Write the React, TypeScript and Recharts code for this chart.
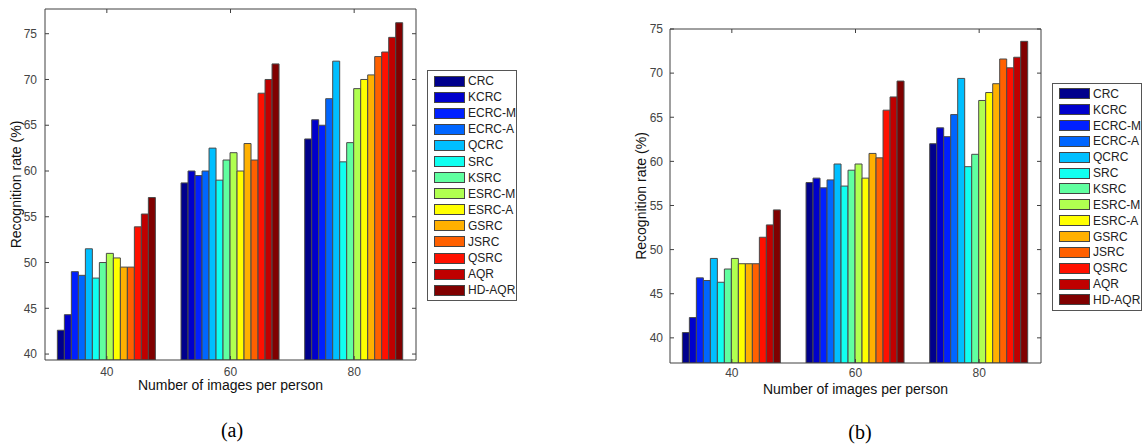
import React from 'react';
import { BarChart, Bar, XAxis, YAxis, Legend, Label } from 'recharts';

const CATEGORIES = ['40', '60', '80'];
const METHODS = ['CRC', 'KCRC', 'ECRC-M', 'ECRC-A', 'QCRC', 'SRC', 'KSRC', 'ESRC-M', 'ESRC-A', 'GSRC', 'JSRC', 'QSRC', 'AQR', 'HD-AQR'];
const COLORS = ['#00008c', '#0000cc', '#0020ff', '#0066ff', '#00bfff', '#10fff0', '#60ffa0', '#b0ff50', '#ffff00', '#ffb000', '#ff6000', '#ff1000', '#c00000', '#800000'];
const Y_TICKS = [40, 45, 50, 55, 60, 65, 70, 75];

// panel (a), one array per category, in METHODS order
const A_40 = [42.6, 44.3, 49.0, 48.6, 51.5, 48.3, 50.0, 51.0, 50.5, 49.5, 49.5, 53.9, 55.3, 57.1];
const A_60 = [58.7, 60.0, 59.5, 60.0, 62.5, 59.0, 61.2, 62.0, 60.0, 63.0, 61.2, 68.5, 70.0, 71.7];
const A_80 = [63.5, 65.6, 65.0, 67.9, 72.0, 61.0, 63.1, 69.0, 70.0, 70.5, 72.5, 73.0, 74.6, 76.2];

// panel (b)
const B_40 = [40.6, 42.3, 46.8, 46.5, 49.0, 46.3, 47.8, 49.0, 48.4, 48.4, 48.4, 51.4, 52.8, 54.5];
const B_60 = [57.6, 58.1, 57.0, 57.9, 59.7, 57.2, 59.0, 59.7, 58.1, 60.9, 60.4, 65.8, 67.3, 69.1];
const B_80 = [62.0, 63.8, 62.8, 65.3, 69.4, 59.4, 60.8, 66.9, 67.8, 68.8, 71.6, 70.6, 71.8, 73.6];

function toRows(groups: number[][]) {
  return CATEGORIES.map((name, i) => {
    const row: Record<string, string | number> = { name };
    METHODS.forEach((m, j) => {
      row[m] = groups[i][j];
    });
    return row;
  });
}

const AXIS = '#404040';
const TICK_STYLE = { fontSize: 12, fill: '#444', fontFamily: 'Liberation Sans, Arial, sans-serif' };
const TITLE_STYLE = { fontSize: 14, fill: '#111', fontFamily: 'Liberation Sans, Arial, sans-serif' };

const legendContent = (rowHeight: number) => () => (
  <div
    style={{
      border: '1px solid #555',
      background: '#fff',
      padding: '2px 0 2px 6px',
      boxSizing: 'border-box',
      width: 90,
      fontFamily: 'Liberation Sans, Arial, sans-serif',
    }}
  >
    {METHODS.map((m, i) => (
      <div key={m} style={{ display: 'flex', alignItems: 'center', height: rowHeight }}>
        <span
          style={{
            display: 'inline-block',
            width: 31,
            height: 11,
            background: COLORS[i],
            border: '1px solid #444',
            boxSizing: 'border-box',
          }}
        />
        <span style={{ marginLeft: 3, fontSize: 12, color: '#222', lineHeight: 1 }}>{m}</span>
      </div>
    ))}
  </div>
);

interface PanelProps {
  rows: Record<string, string | number>[];
  domain: [number, number];
  width: number;
  height: number;
  margin: { top: number; right: number; bottom: number; left: number };
  yAxisWidth: number;
  yTickMargin: number;
  xTickMargin: number;
  yLabelOffset: number;
  xLabelOffset: number;
  legendLeft: number;
  legendTop: number;
  rowHeight: number;
}

function Panel(p: PanelProps) {
  return (
    <BarChart width={p.width} height={p.height} data={p.rows} margin={p.margin} barCategoryGap="10%" barGap={0}>
      <XAxis
        xAxisId="bottom"
        dataKey="name"
        height={40}
        stroke={AXIS}
        tickSize={-4}
        tickMargin={p.xTickMargin}
        tick={TICK_STYLE}
      >
        <Label value="Number of images per person" position="insideBottom" offset={p.xLabelOffset} style={TITLE_STYLE} />
      </XAxis>
      <XAxis xAxisId="top" orientation="top" dataKey="name" height={1} stroke={AXIS} tickSize={-4} tickFormatter={() => ''} />
      <YAxis
        yAxisId="left"
        domain={p.domain}
        ticks={Y_TICKS}
        allowDataOverflow
        width={p.yAxisWidth}
        stroke={AXIS}
        tickSize={-4}
        tickMargin={p.yTickMargin}
        tick={TICK_STYLE}
      >
        <Label
          value="Recognition rate (%)"
          angle={-90}
          position="insideLeft"
          offset={p.yLabelOffset}
          style={{ ...TITLE_STYLE, textAnchor: 'middle' }}
        />
      </YAxis>
      <YAxis
        yAxisId="right"
        orientation="right"
        domain={p.domain}
        ticks={Y_TICKS}
        allowDataOverflow
        width={1}
        stroke={AXIS}
        tickSize={-4}
        tickFormatter={() => ''}
      />
      <Legend
        layout="vertical"
        align="center"
        verticalAlign="middle"
        content={legendContent(p.rowHeight)}
        wrapperStyle={{ left: p.legendLeft, top: p.legendTop, width: 90 }}
      />
      {METHODS.map((m, i) => (
        <Bar
          key={m}
          dataKey={m}
          xAxisId="bottom"
          yAxisId="left"
          fill={COLORS[i]}
          stroke="#4a4a4a"
          strokeWidth={1}
          isAnimationActive={false}
        />
      ))}
    </BarChart>
  );
}

const captionStyle: React.CSSProperties = {
  position: 'absolute',
  transform: 'translate(-50%, -50%)',
  fontFamily: 'Liberation Serif, Times New Roman, serif',
  fontSize: 20,
  color: '#000',
};

export default function App() {
  return (
    <div style={{ position: 'absolute', left: 0, top: 0, width: 1143, height: 445, background: '#fff', overflow: 'hidden' }}>
      <div style={{ position: 'absolute', left: 0, top: 0 }}>
        <Panel
          rows={toRows([A_40, A_60, A_80])}
          domain={[39.35, 77.7]}
          width={530}
          height={400}
          margin={{ top: 8, right: 113, bottom: 0, left: 0 }}
          yAxisWidth={45}
          yTickMargin={12}
          xTickMargin={11}
          yLabelOffset={16}
          xLabelOffset={10}
          legendLeft={427}
          legendTop={70}
          rowHeight={16.1}
        />
      </div>
      <div style={{ position: 'absolute', left: 620, top: 0 }}>
        <Panel
          rows={toRows([B_40, B_60, B_80])}
          domain={[37.15, 75]}
          width={523}
          height={403}
          margin={{ top: 28, right: 101, bottom: 0, left: 0 }}
          yAxisWidth={50}
          yTickMargin={11}
          xTickMargin={9}
          yLabelOffset={21}
          xLabelOffset={9}
          legendLeft={432}
          legendTop={83}
          rowHeight={15.85}
        />
      </div>
      <div style={{ ...captionStyle, left: 232, top: 430 }}>(a)</div>
      <div style={{ ...captionStyle, left: 860, top: 432 }}>(b)</div>
    </div>
  );
}
